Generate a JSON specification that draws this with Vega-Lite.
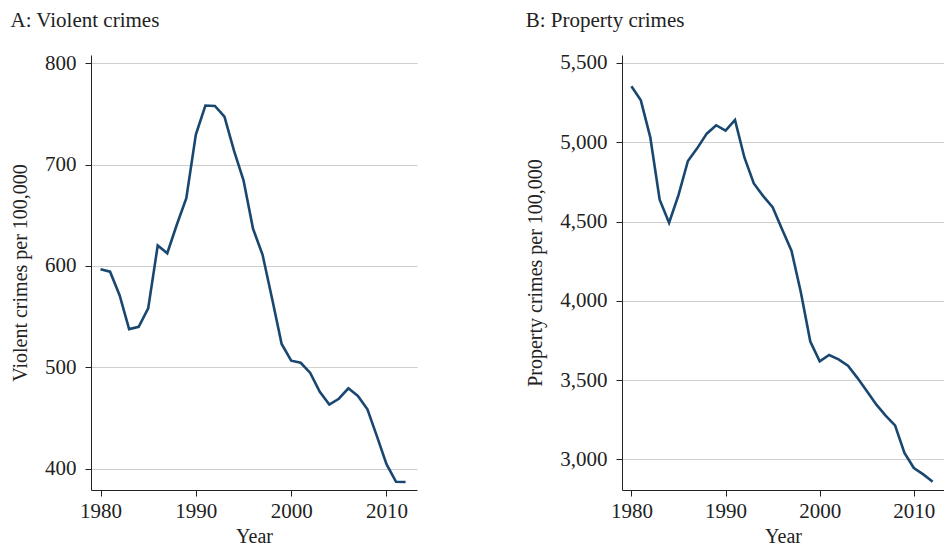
{
  "$schema": "https://vega.github.io/schema/vega-lite/v6.json",
  "background": "white",
  "padding": {"left": 10, "top": 9, "right": 0, "bottom": 2},
  "spacing": 108,
  "config": {
    "view": {"stroke": null},
    "font": "Liberation Serif",
    "axis": {
      "labelFont": "Liberation Serif",
      "titleFont": "Liberation Serif",
      "labelFontSize": 21,
      "titleFontSize": 20,
      "titleFontWeight": "normal",
      "labelColor": "#222",
      "titleColor": "#222",
      "domainColor": "#222",
      "tickColor": "#222",
      "gridColor": "#cfcfcf",
      "gridWidth": 1.2,
      "tickSize": 6
    },
    "title": {"font": "Liberation Serif", "fontSize": 21, "fontWeight": "normal", "color": "#222", "anchor": "start", "offset": 21}
  },
  "datasets": {
    "crime": [
      {"year": 1980, "violent": 596.6, "property": 5353.3},
      {"year": 1981, "violent": 594.3, "property": 5263.9},
      {"year": 1982, "violent": 571.1, "property": 5032.5},
      {"year": 1983, "violent": 537.7, "property": 4637.4},
      {"year": 1984, "violent": 539.9, "property": 4492.1},
      {"year": 1985, "violent": 558.1, "property": 4666.4},
      {"year": 1986, "violent": 620.1, "property": 4881.8},
      {"year": 1987, "violent": 612.5, "property": 4963.0},
      {"year": 1988, "violent": 640.6, "property": 5054.0},
      {"year": 1989, "violent": 666.9, "property": 5107.1},
      {"year": 1990, "violent": 729.6, "property": 5073.1},
      {"year": 1991, "violent": 758.2, "property": 5140.2},
      {"year": 1992, "violent": 757.7, "property": 4903.7},
      {"year": 1993, "violent": 747.1, "property": 4740.0},
      {"year": 1994, "violent": 713.6, "property": 4660.2},
      {"year": 1995, "violent": 684.5, "property": 4590.5},
      {"year": 1996, "violent": 636.6, "property": 4451.0},
      {"year": 1997, "violent": 611.0, "property": 4316.3},
      {"year": 1998, "violent": 567.6, "property": 4052.5},
      {"year": 1999, "violent": 523.0, "property": 3743.6},
      {"year": 2000, "violent": 506.5, "property": 3618.3},
      {"year": 2001, "violent": 504.5, "property": 3658.1},
      {"year": 2002, "violent": 494.4, "property": 3630.6},
      {"year": 2003, "violent": 475.8, "property": 3591.2},
      {"year": 2004, "violent": 463.2, "property": 3514.1},
      {"year": 2005, "violent": 469.0, "property": 3431.5},
      {"year": 2006, "violent": 479.3, "property": 3346.6},
      {"year": 2007, "violent": 471.8, "property": 3276.4},
      {"year": 2008, "violent": 458.6, "property": 3214.6},
      {"year": 2009, "violent": 431.9, "property": 3041.3},
      {"year": 2010, "violent": 404.5, "property": 2945.9},
      {"year": 2011, "violent": 387.1, "property": 2905.4},
      {"year": 2012, "violent": 386.9, "property": 2859.2}
    ]
  },
  "hconcat": [
    {
      "title": "A: Violent crimes",
      "width": 326,
      "height": 435,
      "data": {"name": "crime"},
      "mark": {"type": "line", "color": "#1a476f", "strokeWidth": 2.6},
      "encoding": {
        "x": {"field": "year", "type": "quantitative", "title": "Year",
              "scale": {"domain": [1979, 2013.2], "nice": false, "zero": false},
              "axis": {"values": [1980, 1990, 2000, 2010], "format": "d", "grid": false, "labelPadding": 4, "titlePadding": 5}},
        "y": {"field": "violent", "type": "quantitative", "title": "Violent crimes per 100,000",
              "scale": {"domain": [379, 808], "nice": false, "zero": false},
              "axis": {"values": [400, 500, 600, 700, 800], "format": "d", "grid": true, "labelPadding": 9, "titlePadding": 14}}
      }
    },
    {
      "title": "B: Property crimes",
      "width": 322,
      "height": 435,
      "data": {"name": "crime"},
      "mark": {"type": "line", "color": "#1a476f", "strokeWidth": 2.6},
      "encoding": {
        "x": {"field": "year", "type": "quantitative", "title": "Year",
              "scale": {"domain": [1979, 2013.2], "nice": false, "zero": false},
              "axis": {"values": [1980, 1990, 2000, 2010], "format": "d", "grid": false, "labelPadding": 4, "titlePadding": 5}},
        "y": {"field": "property", "type": "quantitative", "title": "Property crimes per 100,000",
              "scale": {"domain": [2807, 5550], "nice": false, "zero": false},
              "axis": {"values": [3000, 3500, 4000, 4500, 5000, 5500], "format": ",d", "grid": true, "labelPadding": 9, "titlePadding": 14}}
      }
    }
  ]
}
